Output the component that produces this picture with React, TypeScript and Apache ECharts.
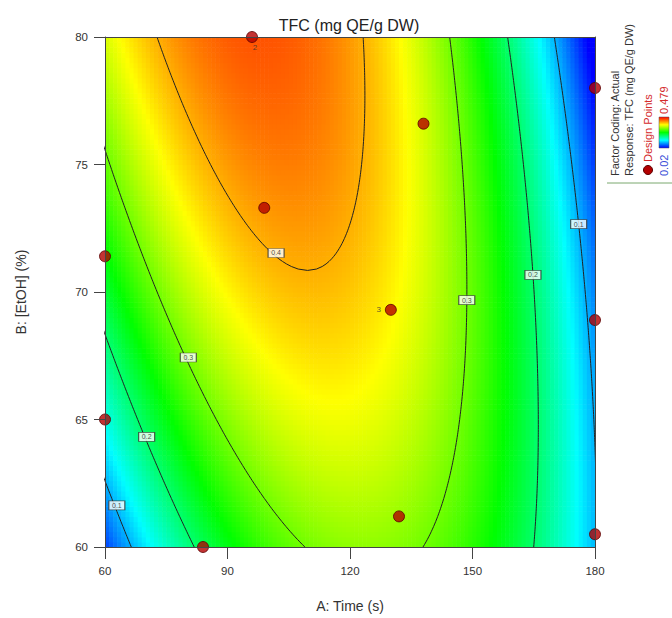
import React, { useEffect, useRef } from 'react';
import * as echarts from 'echarts';

// ---- data ----
const timeTicks = [60, 90, 120, 150, 180];
const etohTicks = [60, 65, 70, 75, 80];
const contourLevels = [0.1, 0.2, 0.3, 0.4];
// Quadratic response-surface model in coded units a=(A-120)/60, b=(B-70)/10,
// coefficients estimated from the contour positions.
const modelTerms = ['Intercept', 'A', 'B', 'AB', 'A^2', 'B^2'];
const modelCoefficients = [0.389, -0.0735, 0.0485, -0.1005, -0.237, -0.0275];
const colorRange = [0.02, 0.479];
const designTime = [96, 99, 60, 138, 180, 130, 180, 132, 180, 60, 84];
const designEtOH = [80, 73.3, 71.4, 76.6, 78, 69.3, 68.9, 61.2, 60.5, 65, 60];
const designLabels = ['2', '', '', '', '', '3', '', '', '', '', ''];
const labelLevels = [0.4, 0.3, 0.2, 0.1, 0.3, 0.2, 0.1];
const labelTime = [101.9, 80.4, 70.2, 62.9, 148.6, 164.8, 176.0];
const labelEtOH = [71.53, 67.43, 64.32, 61.63, 69.68, 70.67, 72.66];

const FONT = "'Liberation Sans', Arial, sans-serif";
const PALETTE = ['#0000ff', '#00ffff', '#00ff00', '#ffff00', '#ff0000'];

const [c0, cA, cB, cAB, cAA, cBB] = modelCoefficients;
const toA = (a: number) => 120 + 60 * a;
const toB = (b: number) => 70 + 10 * b;
function predict(A: number, B: number) {
  const a = (A - 120) / 60;
  const b = (B - 70) / 10;
  return c0 + cA * a + cB * b + cAB * a * b + cAA * a * a + cBB * b * b;
}

function buildCells() {
  const cells: number[][] = [];
  const dA = 1;
  const dB = 0.2;
  for (let i = 0; i < 120; i++) {
    for (let j = 0; j < 100; j++) {
      const A = 60 + dA / 2 + i * dA;
      const B = 60 + dB / 2 + j * dB;
      const v = Math.min(colorRange[1], Math.max(colorRange[0], predict(A, B)));
      cells.push([A, B, v]);
    }
  }
  return cells;
}

function buildContours() {
  const k = -cAA;
  const series: any[] = [];
  contourLevels.forEach((level) => {
    const pq = (b: number) => {
      const p = cA + cAB * b;
      const q = c0 + cB * b + cBB * b * b - level;
      return [p, q];
    };
    const D = (b: number) => {
      const [p, q] = pq(b);
      return p * p + 4 * k * q;
    };
    let bStart = -1;
    if (D(-1) < 0) {
      if (D(1) < 0) return;
      let lo = -1;
      let hi = 1;
      for (let i = 0; i < 60; i++) {
        const mid = (lo + hi) / 2;
        if (D(mid) < 0) lo = mid;
        else hi = mid;
      }
      bStart = hi;
    }
    const bs: number[] = [bStart];
    for (let s = 0; s <= 200; s++) {
      const b = -1 + s * 0.01;
      if (b > bStart + 1e-9) bs.push(b);
    }
    const root = (b: number, sign: number) => {
      const [p] = pq(b);
      const d = Math.sqrt(Math.max(0, D(b)));
      return (p + sign * d) / (2 * k);
    };
    const left = bs.map((b) => [toA(root(b, -1)), toB(b)]);
    const right = bs.map((b) => [toA(root(b, 1)), toB(b)]);
    const style = {
      type: 'line',
      showSymbol: false,
      symbol: 'none',
      silent: true,
      clip: true,
      z: 3,
      lineStyle: { color: '#222', width: 1 },
    };
    if (bStart > -1) {
      series.push({ ...style, data: left.slice().reverse().concat(right) });
    } else {
      series.push({ ...style, data: left });
      series.push({ ...style, data: right });
    }
  });
  return series;
}

export default function App() {
  const ref = useRef<HTMLDivElement>(null);
  useEffect(() => {
    const chart = echarts.init(ref.current!, null, { renderer: 'svg' });
    const cells = buildCells();
    const contourSeries = buildContours();

    const axisCommon = {
      type: 'value',
      z: 10,
      splitLine: { show: false },
      axisLine: { show: true, lineStyle: { color: '#444', width: 1 } },
    };

    const legendText = (x: number, y: number, text: string, fill: string) => ({
      type: 'text',
      x,
      y,
      rotation: Math.PI / 2,
      style: {
        text,
        font: `11px ${FONT}`,
        fill,
        textAlign: 'left',
        textVerticalAlign: 'middle',
      },
    });

    const option: any = {
      animation: false,
      backgroundColor: '#ffffff',
      textStyle: { fontFamily: FONT },
      grid: { left: 105, top: 37, width: 490, height: 516 },
      visualMap: {
        show: false,
        type: 'continuous',
        seriesIndex: 0,
        dimension: 2,
        min: colorRange[0],
        max: colorRange[1],
        inRange: { color: PALETTE },
      },
      xAxis: [
        {
          ...axisCommon,
          min: timeTicks[0],
          max: timeTicks[timeTicks.length - 1],
          interval: 30,
          axisTick: { show: true, length: 12, lineStyle: { color: '#444' } },
          axisLabel: { fontSize: 11.5, color: '#333', margin: 18, fontFamily: FONT },
          name: 'A: Time (s)',
          nameLocation: 'middle',
          nameGap: 52,
          nameTextStyle: { fontSize: 14, color: '#333', fontFamily: FONT },
        },
        {
          ...axisCommon,
          position: 'top',
          min: 60,
          max: 180,
          axisTick: { show: false },
          axisLabel: { show: false },
        },
      ],
      yAxis: [
        {
          ...axisCommon,
          min: etohTicks[0],
          max: etohTicks[etohTicks.length - 1],
          interval: 5,
          axisTick: { show: true, length: 11, lineStyle: { color: '#444' } },
          axisLabel: { fontSize: 11.5, color: '#333', margin: 17, fontFamily: FONT },
          name: 'B: [EtOH] (%)',
          nameLocation: 'middle',
          nameGap: 77,
          nameTextStyle: { fontSize: 14, color: '#333', fontFamily: FONT },
        },
        {
          ...axisCommon,
          position: 'right',
          min: 60,
          max: 80,
          axisTick: { show: false },
          axisLabel: { show: false },
        },
      ],
      series: [
        {
          type: 'custom',
          silent: true,
          z: 1,
          encode: { x: 0, y: 1 },
          data: cells,
          renderItem: (params: any, api: any) => {
            const A = api.value(0);
            const B = api.value(1);
            const p0 = api.coord([A - 0.5, B + 0.1]);
            const p1 = api.coord([A + 0.5, B - 0.1]);
            return {
              type: 'rect',
              shape: {
                x: p0[0],
                y: p0[1],
                width: p1[0] - p0[0] + 0.6,
                height: p1[1] - p0[1] + 0.6,
              },
              style: { fill: api.visual('color'), stroke: null },
            };
          },
        },
        ...contourSeries,
        {
          type: 'scatter',
          silent: true,
          z: 5,
          clip: false,
          symbol: 'rect',
          symbolSize: [16, 9],
          itemStyle: { color: '#ffffff', borderColor: '#333', borderWidth: 0.9 },
          label: {
            show: true,
            position: 'inside',
            fontSize: 7,
            color: '#222',
            fontFamily: FONT,
            formatter: (p: any) => String(p.value[2]),
          },
          data: labelLevels.map((lv, i) => [labelTime[i], labelEtOH[i], lv]),
        },
        {
          type: 'scatter',
          silent: true,
          z: 6,
          clip: false,
          symbol: 'circle',
          symbolSize: 11,
          itemStyle: { color: '#b30000', borderColor: '#5a0000', borderWidth: 1 },
          data: designTime.map((t, i) => {
            const lab = designLabels[i];
            const item: any = { value: [t, designEtOH[i]] };
            if (lab) {
              item.label = {
                show: true,
                formatter: lab,
                fontSize: 8,
                color: '#333',
                fontFamily: FONT,
                position: i === 0 ? 'bottom' : 'left',
                distance: i === 0 ? 0 : 4,
                offset: i === 0 ? [3, 0] : [0, 0],
              };
            }
            return item;
          }),
        },
      ],
      graphic: [
        {
          type: 'text',
          x: 349,
          y: 25,
          style: {
            text: 'TFC (mg QE/g DW)',
            font: `16px ${FONT}`,
            fill: '#222',
            textAlign: 'center',
            textVerticalAlign: 'middle',
          },
        },
        legendText(615, 176, 'Factor Coding: Actual', '#333'),
        legendText(629, 176, 'Response: TFC (mg QE/g DW)', '#333'),
        {
          type: 'circle',
          shape: { cx: 648, cy: 170, r: 4.5 },
          style: { fill: '#b30000', stroke: '#5a0000', lineWidth: 1 },
        },
        legendText(648, 162, 'Design Points', '#d42a2a'),
        legendText(664, 176, String(colorRange[0]), '#3a4fd8'),
        {
          type: 'rect',
          shape: { x: 659, y: 117, width: 10, height: 31 },
          style: {
            fill: {
              type: 'linear',
              x: 0,
              y: 0,
              x2: 0,
              y2: 1,
              colorStops: [
                { offset: 0, color: PALETTE[4] },
                { offset: 0.25, color: PALETTE[3] },
                { offset: 0.5, color: PALETTE[2] },
                { offset: 0.75, color: PALETTE[1] },
                { offset: 1, color: PALETTE[0] },
              ],
            },
            stroke: '#555',
            lineWidth: 0.5,
          },
        },
        legendText(664, 114, String(colorRange[1]), '#d42a2a'),
        {
          type: 'line',
          shape: { x1: 607, y1: 183, x2: 672, y2: 183 },
          style: { stroke: '#7aa86e', lineWidth: 1 },
        },
      ],
    };
    chart.setOption(option);
    return () => chart.dispose();
  }, []);
  return (
    <div
      ref={ref}
      style={{ position: 'fixed', left: 0, top: 0, width: 672, height: 618, background: '#fff' }}
    />
  );
}
